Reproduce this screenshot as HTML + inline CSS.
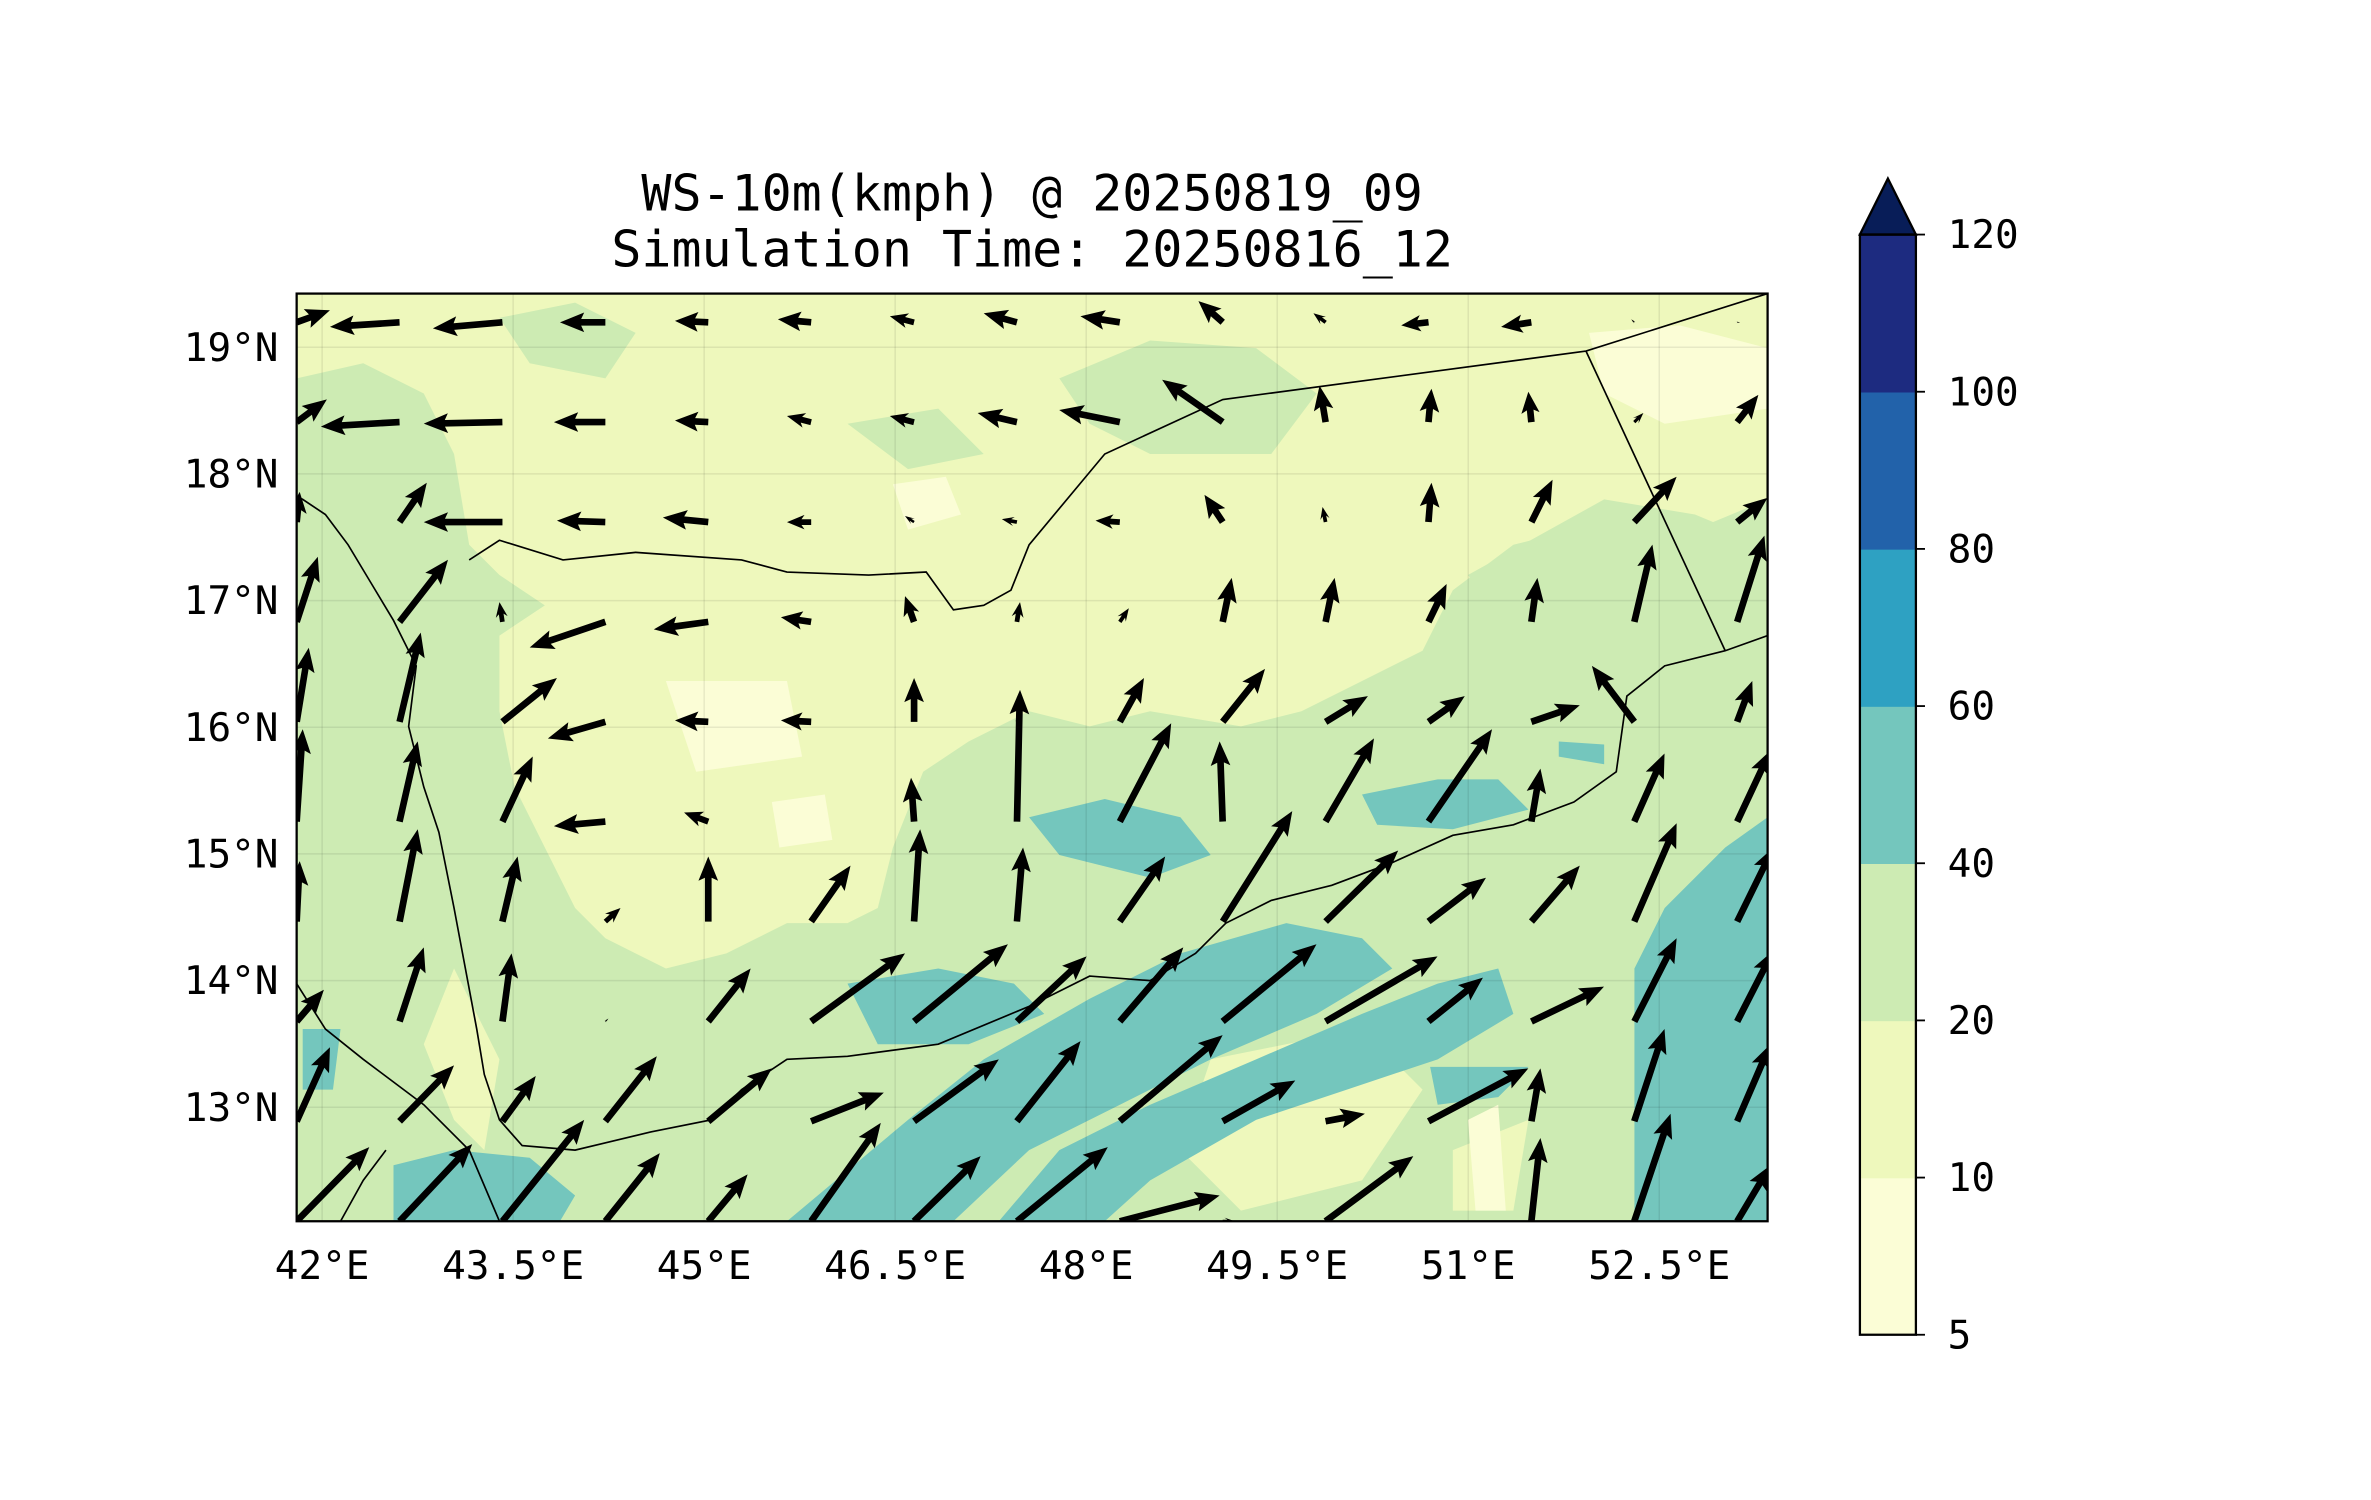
<!DOCTYPE html>
<html><head><meta charset="utf-8"><style>
html,body{margin:0;padding:0;background:#fff}
svg{display:block}
text{font-family:"DejaVu Sans Mono","Liberation Mono",monospace;fill:#000}
</style></head><body>
<svg id="chart" width="2371" height="1500" viewBox="0 0 1566.7 991.2" xmlns="http://www.w3.org/2000/svg">
<defs><clipPath id="mapclip"><rect x="196" y="194" width="972" height="613"/></clipPath></defs>
<text x="682" y="139" font-size="33" text-anchor="middle">WS-10m(kmph) @ 20250819_09</text>
<text x="682" y="176" font-size="33" text-anchor="middle">Simulation Time: 20250816_12</text>
<g clip-path="url(#mapclip)">
 <rect x="196" y="194" width="972" height="613" fill="#cdebb3"/>
 <path fill="#eef8bc" d="M196,194 L1168,194 L1168,330 L1120,350 L1060,345 L1000,360 L960,390 L940,430 L900,450 L860,470 L820,480 L760,470 L720,480 L680,470 L640,490 L610,510 L590,560 L580,600 L560,610 L520,610 L480,630 L440,640 L400,620 L380,600 L360,560 L340,520 L330,470 L330,420 L360,400 L330,380 L310,360 L300,300 L280,260 L240,240 L196,250 Z"/>
 <path fill="#eef8bc" d="M880,300 L1000,270 L1040,300 L1000,330 L940,330 Z M300,640 L330,700 L320,760 L300,740 L280,690 Z M800,700 L900,680 L940,720 L900,780 L820,800 L780,760 Z M960,760 L1010,740 L1000,800 L960,800 Z"/>
 <path fill="#cdebb3" d="M700,250 L760,225 L830,230 L870,260 L840,300 L760,300 L720,280 Z M970,380 L1060,330 L1120,340 L1168,360 L1168,440 L1100,420 L1000,420 Z M330,210 L380,200 L420,220 L400,250 L350,240 Z M560,280 L620,270 L650,300 L600,310 Z"/>
 <path fill="#fbfdd6" d="M1050,220 L1110,215 L1168,230 L1168,270 L1100,280 L1060,260 Z M590,320 L625,315 L635,340 L600,350 Z M510,530 L545,525 L550,555 L515,560 Z M440,450 L520,450 L530,500 L460,510 Z M970,740 L990,730 L995,800 L975,800 Z"/>
 <path fill="#74c6bd" d="M520,807 L600,740 L650,700 L720,660 L780,630 L850,610 L900,620 L920,640 L870,670 L800,700 L740,730 L680,760 L630,807 Z M660,807 L700,760 L760,730 L830,700 L900,670 L950,650 L990,640 L1000,670 L950,700 L890,720 L830,740 L760,780 L730,807 Z M1080,807 L1080,640 L1100,600 L1140,560 L1168,540 L1168,807 Z M680,540 L730,528 L780,540 L800,565 L760,580 L700,565 Z M900,525 L950,515 L990,515 L1010,535 L960,548 L910,545 Z M260,770 L300,760 L350,765 L380,790 L370,807 L260,807 Z M200,680 L225,680 L220,720 L200,720 Z M560,650 L620,640 L670,650 L690,670 L640,690 L580,690 Z M1030,490 L1060,492 L1060,505 L1030,500 Z M945,705 L1010,705 L990,725 L950,730 Z"/>
 <g stroke="#000" stroke-opacity="0.08" stroke-width="1" id="grid"></g>
 <g fill="none" stroke="#000" stroke-width="1.1">
  <polyline points="310,370 330,357 372,370 420,365 490,370 520,378 574,380 612,378 630,403 650,400 668,390 680,360 730,300 808,264 1048,232 1168,194"/>
  <polyline points="1048,232 1140,430"/>
  <polyline points="1168,420 1140,430 1100,440 1075,460 1068,510 1040,530 1000,545 960,552 920,570 880,585 840,595 810,610 790,630 760,648 720,645 680,665 620,690 560,698 520,700 490,720 470,740 430,748 380,760 345,757 330,740 320,710 315,680 300,600 290,550 280,520 270,480 275,440 260,410 245,385 230,360 215,340 200,330 196,328"/>
  <polyline points="196,650 215,680 240,700 280,730 310,760 330,807"/>
  <polyline points="225,807 240,780 255,760"/>
 </g>
 <g id="arrows" fill="#000"></g>
</g>
<rect x="196" y="194" width="972" height="613" fill="none" stroke="#000" stroke-width="1.5"/>
<g id="ticks"></g>
<g id="cbar"></g>
</svg>
<script>
const NS="http://www.w3.org/2000/svg";
const lonTicks=[42,43.5,45,46.5,48,49.5,51,52.5];
const latTicks=[13,14,15,16,17,18,19];
const cbarLevels=[5,10,20,40,60,80,100,120];
const cbarColors=["#fbfdd6","#eef8bc","#cdebb3","#74c6bd","#2ea1c2","#2262aa","#1d2b80"];
const gridLon=[41.8,42.608,43.416,44.224,45.032,45.84,46.648,47.456,48.264,49.072,49.88,50.688,51.496,52.304,53.112];
const rowLat=[19.197,18.409,17.620,16.832,16.043,15.255,14.466,13.677,12.889,12.1];
// u,v components per grid row (top to bottom), 15 columns each
const uRows=[
[22,-46,-46,-30,-22,-22,-16,-22,-26,-16,-8,-18,-20,-2,2],
[20,-52,-52,-34,-22,-16,-16,-26,-40,-40,-4,2,-2,6,14],
[2,18,-52,-32,-30,-16,-6,-10,-16,-12,-2,2,14,28,20],
[14,32,-2,-50,-36,-20,-6,2,6,6,6,12,4,12,18],
[8,14,36,-38,-22,-20,0,0,16,28,28,24,32,-28,10],
[4,12,20,-34,-16,0,-2,2,34,-2,32,42,6,20,22],
[2,12,10,10,0,26,4,4,30,46,48,38,32,28,24],
[18,16,6,2,28,62,62,46,42,62,74,36,48,28,24],
[22,36,22,34,42,48,56,42,68,48,26,66,6,20,22],
[48,48,54,36,26,46,44,60,66,8,58,0,6,24,22]];
const vRows=[
[8,-3,-4,0,1,2,4,6,4,14,6,-2,-3,2,0],
[15,-3,-1,0,1,4,4,6,8,28,24,22,20,6,18],
[20,26,0,1,3,0,4,2,1,18,10,26,28,30,16],
[43,41,13,-17,-5,3,17,13,9,29,29,25,29,51,57],
[49,59,29,-11,1,1,29,4,29,35,17,17,11,37,27],
[61,53,43,-3,6,0,29,87,65,53,55,61,35,45,47],
[40,61,43,9,43,37,61,49,43,73,47,29,37,65,49],
[21,49,45,2,35,45,51,43,49,51,43,29,23,55,47],
[49,37,30,43,35,19,41,53,57,27,5,35,35,61,51],
[49,51,67,45,31,65,43,49,17,0,43,0,55,71,37]];
function xScale(lon){return 196+(lon-41.8)*84.15;}
function yScale(lat){return 807-(lat-12.1)*83.7;}
function el(tag,attrs,parent){const e=document.createElementNS(NS,tag);for(const k in attrs)e.setAttribute(k,attrs[k]);parent.appendChild(e);return e;}
const grid=document.getElementById('grid');
lonTicks.forEach(l=>{const x=xScale(l);const g=el('line',{x1:x,x2:x,y1:194,y2:807},grid);});
latTicks.forEach(l=>{const y=yScale(l);const g=el('line',{x1:196,x2:1168,y1:y,y2:y},grid);});
const tk=document.getElementById('ticks');
lonTicks.forEach(l=>{const t=el('text',{x:xScale(l),y:845,'font-size':'26','text-anchor':'middle'},tk);t.textContent=(Number.isInteger(l)?l:l.toFixed(1))+'°E';

});
latTicks.forEach(l=>{const t=el('text',{x:184,y:yScale(l)+9,'font-size':'26','text-anchor':'end'},tk);t.textContent=l+'°N';

});
const ar=document.getElementById('arrows');
for(let r=0;r<uRows.length;r++){for(let c=0;c<uRows[r].length;c++){
 const u=uRows[r][c],v=vRows[r][c];const L=Math.hypot(u,v);if(L<1)continue;
 const x0=xScale(gridLon[c]),y0=yScale(rowLat[r]);
 const ux=u/L,uy=-v/L,px=-uy,py=ux;
 const hl=Math.min(14,L*0.6),hw=Math.min(6.5,L*0.3),sw=Math.min(2.2,L*0.12);
 const bx=x0+ux*(L-hl),by=y0+uy*(L-hl),tx=x0+ux*L,ty=y0+uy*L;
 const pts=[[x0+px*sw,y0+py*sw],[bx+px*sw,by+py*sw],[bx+px*hw-ux*2,by+py*hw-uy*2],[tx,ty],[bx-px*hw-ux*2,by-py*hw-uy*2],[bx-px*sw,by-py*sw],[x0-px*sw,y0-py*sw]];
 const p=el('polygon',{points:pts.map(q=>q[0].toFixed(1)+','+q[1].toFixed(1)).join(' ')},ar);
 
 
}}
const cb=document.getElementById('cbar');
const cx=1229,cw=37,ctop=155,cbot=882,seg=(cbot-ctop)/(cbarLevels.length-1);
function cy(i){return cbot-i*seg;}
cbarColors.forEach((col,i)=>{const r=el('rect',{x:cx,y:cy(i+1),width:cw,height:seg+0.5,fill:col},cb);

});
const tri=el('polygon',{points:`${cx},${ctop} ${cx+cw/2},118 ${cx+cw},${ctop}`,fill:'#081d58',stroke:'#000','stroke-width':1.5},cb);


const fr=el('rect',{x:cx,y:ctop,width:cw,height:cbot-ctop,fill:'none',stroke:'#000','stroke-width':1.5},cb);


cbarLevels.forEach((lv,i)=>{const y=cy(i);el('line',{x1:cx+cw,x2:cx+cw+6,y1:y,y2:y,stroke:'#000','stroke-width':1.2},cb);
const t=el('text',{x:1287,y:y+9,'font-size':'26'},cb);t.textContent=lv;

});
</script>
</body></html>
